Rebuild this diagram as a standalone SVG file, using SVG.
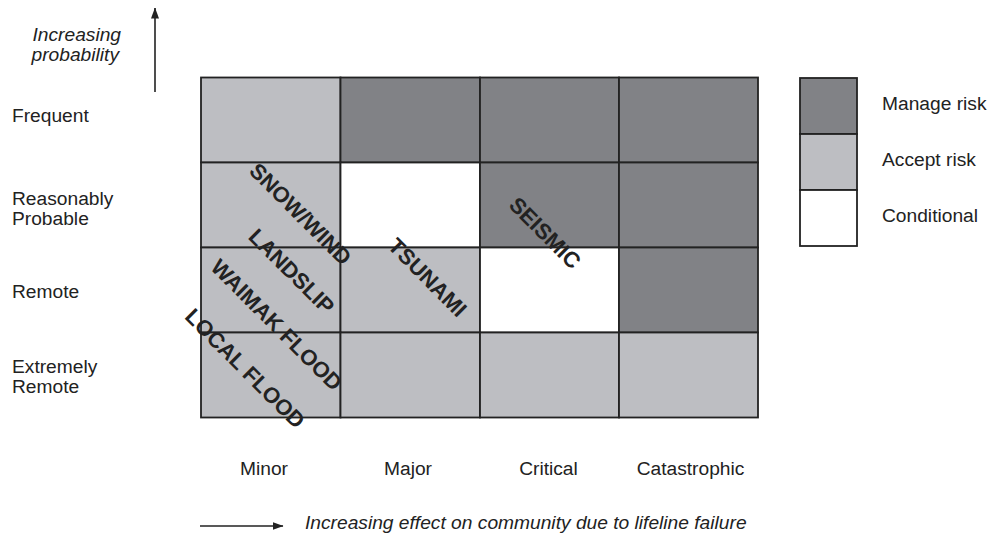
<svg xmlns="http://www.w3.org/2000/svg" width="993" height="535" viewBox="0 0 993 535">
  <style>
    .lbl { font-family: "Liberation Sans", Arial, sans-serif; font-size: 19.2px; fill: #222; }
    .it { font-style: italic; }
    .mid { text-anchor: middle; }
    .haz { font-family: "Liberation Sans", Arial, sans-serif; font-size: 22px; font-weight: bold; fill: #222; text-anchor: middle; dominant-baseline: central; }
    .cell { stroke: #222; stroke-width: 1.8; }
    .manage { fill: #818286; }
    .accept { fill: #bdbec2; }
    .cond { fill: #ffffff; }
    .axis { stroke: #222; stroke-width: 1.6; fill: none; }
  </style>
  <defs>
    <marker id="head" viewBox="0 0 11 8" refX="10.5" refY="4" markerWidth="11" markerHeight="8" markerUnits="userSpaceOnUse" orient="auto">
      <path d="M0,0 L11,4 L0,8 Z" fill="#222"/>
    </marker>
  </defs>

  <rect width="993" height="535" fill="#ffffff"/>

  <!-- probability axis -->
  <g id="prob-axis">
    <line class="axis" x1="155" y1="92" x2="155" y2="8" marker-end="url(#head)"/>
    <text class="lbl it" x="121" y="41" text-anchor="end">Increasing</text>
    <text class="lbl it" x="119" y="61" text-anchor="end">probability</text>
  </g>

  <!-- row labels -->
  <g id="row-labels">
    <text class="lbl" x="12" y="122">Frequent</text>
    <text class="lbl" x="12" y="205">Reasonably</text>
    <text class="lbl" x="12" y="225">Probable</text>
    <text class="lbl" x="12" y="298">Remote</text>
    <text class="lbl" x="12" y="373">Extremely</text>
    <text class="lbl" x="12" y="393">Remote</text>
  </g>

  <!-- risk matrix cells -->
  <g id="matrix">
    <rect class="cell accept" x="201" y="77.5" width="139.5" height="85"/>
    <rect class="cell manage" x="340.5" y="77.5" width="139.5" height="85"/>
    <rect class="cell manage" x="480" y="77.5" width="139" height="85"/>
    <rect class="cell manage" x="619" y="77.5" width="139" height="85"/>

    <rect class="cell accept" x="201" y="162.5" width="139.5" height="85"/>
    <rect class="cell cond" x="340.5" y="162.5" width="139.5" height="85"/>
    <rect class="cell manage" x="480" y="162.5" width="139" height="85"/>
    <rect class="cell manage" x="619" y="162.5" width="139" height="85"/>

    <rect class="cell accept" x="201" y="247.5" width="139.5" height="85"/>
    <rect class="cell accept" x="340.5" y="247.5" width="139.5" height="85"/>
    <rect class="cell cond" x="480" y="247.5" width="139" height="85"/>
    <rect class="cell manage" x="619" y="247.5" width="139" height="85"/>

    <rect class="cell accept" x="201" y="332.5" width="139.5" height="85"/>
    <rect class="cell accept" x="340.5" y="332.5" width="139.5" height="85"/>
    <rect class="cell accept" x="480" y="332.5" width="139" height="85"/>
    <rect class="cell accept" x="619" y="332.5" width="139" height="85"/>
  </g>

  <!-- hazards placed diagonally across the matrix -->
  <g id="hazards">
    <text class="haz" transform="translate(300.5,214) rotate(45)">SNOW/WIND</text>
    <text class="haz" transform="translate(291.5,271.5) rotate(45)">LANDSLIP</text>
    <text class="haz" transform="translate(276.5,325) rotate(45)">WAIMAK FLOOD</text>
    <text class="haz" transform="translate(245,368.5) rotate(45)">LOCAL FLOOD</text>
    <text class="haz" transform="translate(427.5,277.5) rotate(45)">TSUNAMI</text>
    <text class="haz" transform="translate(545,233) rotate(45)">SEISMIC</text>
  </g>

  <!-- legend -->
  <g id="legend">
    <rect class="cell manage" x="800" y="78" width="57" height="56"/>
    <rect class="cell accept" x="800" y="134" width="57" height="56"/>
    <rect class="cell cond" x="800" y="190" width="57" height="56"/>
    <text class="lbl" x="882" y="110">Manage risk</text>
    <text class="lbl" x="882" y="166">Accept risk</text>
    <text class="lbl" x="882" y="222">Conditional</text>
  </g>

  <!-- column labels -->
  <g id="col-labels">
    <text class="lbl mid" x="264" y="475">Minor</text>
    <text class="lbl mid" x="408" y="475">Major</text>
    <text class="lbl mid" x="548.5" y="475">Critical</text>
    <text class="lbl mid" x="690.5" y="475">Catastrophic</text>
  </g>

  <!-- effect axis -->
  <g id="effect-axis">
    <line class="axis" x1="200" y1="526" x2="283" y2="526" marker-end="url(#head)"/>
    <text class="lbl it" x="305" y="529">Increasing effect on community due to lifeline failure</text>
  </g>
</svg>
